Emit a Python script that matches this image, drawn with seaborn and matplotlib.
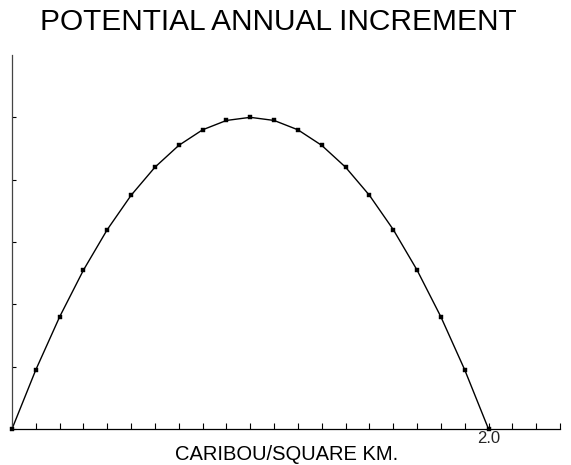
import matplotlib
matplotlib.use('Agg')
import matplotlib.pyplot as plt
import seaborn as sns
import pandas as pd

# Caribou density (per square km) and potential annual increment
density = [0.0, 0.1, 0.2, 0.3, 0.4, 0.5, 0.6, 0.7, 0.8, 0.9, 1.0,
           1.1, 1.2, 1.3, 1.4, 1.5, 1.6, 1.7, 1.8, 1.9, 2.0]
increment = [0.0, 0.95, 1.8, 2.55, 3.2, 3.75, 4.2, 4.55, 4.8, 4.95, 5.0,
             4.95, 4.8, 4.55, 4.2, 3.75, 3.2, 2.55, 1.8, 0.95, 0.0]

xTicks = [round(0.1 * i, 1) for i in range(24)]
xTickLabels = ['2.0' if abs(t - 2.0) < 1e-9 else '' for t in xTicks]
yTicks = [0, 1, 2, 3, 4, 5]

df = pd.DataFrame({'density': density, 'increment': increment})

sns.set_style('ticks')
plt.rcParams['font.family'] = ['Liberation Sans', 'DejaVu Sans']

fig = plt.figure(figsize=(5.71, 4.65), dpi=100)
ax = fig.add_axes([12 / 571, 1 - 429 / 465, 548 / 571, 374 / 465])

# curve then the plotted points
sns.lineplot(data=df, x='density', y='increment', ax=ax, color='black', linewidth=1.0)
sns.scatterplot(data=df, x='density', y='increment', ax=ax, color='black', marker='s',
                s=7, edgecolor='black', linewidth=0.3, zorder=3, clip_on=False)

ax.set_xlim(0, 2.3)
ax.set_ylim(0, 6)
ax.set_xticks(xTicks)
ax.set_xticklabels(xTickLabels)
ax.set_yticks(yTicks)
ax.set_yticklabels([])
ax.tick_params(axis='both', direction='in', length=4, width=0.8, color='black',
               labelsize=12, pad=1.5)
ax.tick_params(axis='y', length=3)
sns.despine(ax=ax)
ax.spines['left'].set_linewidth(0.9)
ax.spines['bottom'].set_linewidth(0.9)
ax.spines['left'].set_color('#444444')
ax.spines['bottom'].set_color('black')
ax.set_xlabel('')
ax.set_ylabel('')

fig.text(278.5 / 571, 1 - 22 / 465, 'POTENTIAL ANNUAL INCREMENT', ha='center', va='center',
         fontsize=21.5, color='black')
fig.text(286.5 / 571, 1 - 454 / 465, 'CARIBOU/SQUARE KM.', ha='center', va='center',
         fontsize=14.5, color='black')

fig.savefig('out.png', dpi=100, facecolor='white')
